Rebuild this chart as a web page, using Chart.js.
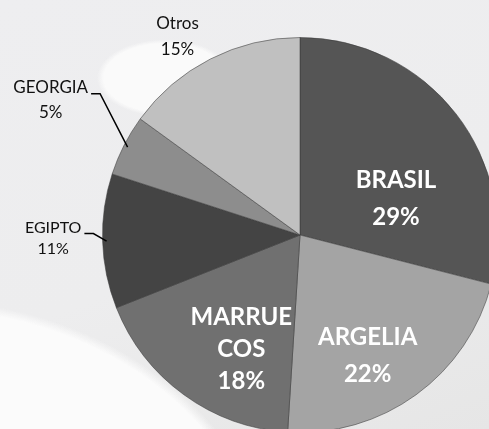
<!DOCTYPE html>
<html>
<head>
<meta charset="utf-8">
<script src="https://cdn.jsdelivr.net/npm/chart.js@4/dist/chart.umd.min.js"></script>
<style>
  html, body {
    margin: 0;
    padding: 0;
    width: 489px;
    height: 429px;
    overflow: hidden;
  }
  body {
    background:
      radial-gradient(ellipse 360px 300px at -80px 600px, #fbfbfb 0%, #fbfbfb 97%, rgba(251,251,251,0) 100%),
      radial-gradient(ellipse 85px 48px at 165px 78px, #fafafa 0%, #fafafa 72%, rgba(250,250,250,0) 80%),
      linear-gradient(160deg, #eeeef0 0%, #ededee 55%, #e6e6e6 100%);
  }
  #wrap {
    position: absolute;
    left: 0;
    top: 0;
  }
</style>
</head>
<body>
<div id="wrap"><canvas id="pie" width="600" height="470"></canvas></div>
<script>
// Exportaciones por destino (%)
const categories = ["BRASIL", "ARGELIA", "MARRUECOS", "EGIPTO", "GEORGIA", "Otros"];
const shares = [29, 22, 18, 11, 5, 15];
const sliceColors = ["#555555", "#a4a4a4", "#707070", "#444444", "#8d8d8d", "#c0c0c0"];

// label text lines per slice
const labelLines = [
  ["BRASIL", "29%"],
  ["ARGELIA", "22%"],
  ["MARRUE", "COS", "18%"],
  ["EGIPTO", "11%"],
  ["GEORGIA", "5%"],
  ["Otros", "15%"]
];

// label placement: angle shift (deg) from slice middle, distance as fraction of radius
const labelPlacement = [
  { shift: 17, frac: 0.52, inside: true, lh: 37 },
  { shift: 6.7, frac: 0.70, inside: true, lh: 37 },
  { shift: -8.8, frac: 0.65, inside: true, lh: 32 },
  { shift: 1.1, frac: 1.25, inside: false, lh: 21, size: 16, leader: true },
  { shift: 1.4, frac: 1.435, inside: false, lh: 25, size: 17, leader: true },
  { shift: -4.7, frac: 1.18, inside: false, lh: 26, size: 17 }
];

function shade(hex, amt) {
  const n = parseInt(hex.slice(1), 16);
  let r = (n >> 16) + amt, g = ((n >> 8) & 255) + amt, b = (n & 255) + amt;
  r = Math.max(0, Math.min(255, r));
  g = Math.max(0, Math.min(255, g));
  b = Math.max(0, Math.min(255, b));
  return `rgb(${r},${g},${b})`;
}

// soft bevel look like the original office chart
function bevelFill(context) {
  const chart = context.chart;
  const base = sliceColors[context.dataIndex];
  const meta = chart.getDatasetMeta(0);
  const arc = meta.data[context.dataIndex];
  if (!arc || !arc.outerRadius) return base;
  const g = chart.ctx.createRadialGradient(arc.x, arc.y, 0, arc.x, arc.y, arc.outerRadius);
  g.addColorStop(0, base);
  g.addColorStop(0.88, base);
  g.addColorStop(0.95, shade(base, 28));
  g.addColorStop(0.98, shade(base, -5));
  g.addColorStop(1, shade(base, -40));
  return g;
}

const labelPlugin = {
  id: "sliceLabels",
  afterDatasetsDraw(chart) {
    const ctx = chart.ctx;
    const meta = chart.getDatasetMeta(0);
    meta.data.forEach((arc, i) => {
      const p = labelPlacement[i];
      const mid = (arc.startAngle + arc.endAngle) / 2;
      const ang = mid + p.shift * Math.PI / 180;
      const cx = arc.x + Math.cos(ang) * arc.outerRadius * p.frac;
      const cy = arc.y + Math.sin(ang) * arc.outerRadius * p.frac;
      const lines = labelLines[i];

      ctx.save();
      ctx.textAlign = "center";
      ctx.textBaseline = "middle";
      if (p.inside) {
        ctx.font = "bold 24px Lato, 'Open Sans', sans-serif";
        ctx.fillStyle = "#ffffff";
      } else {
        ctx.font = `${p.size}px Lato, 'Open Sans', sans-serif`;
        ctx.fillStyle = "#111111";
      }
      const top = cy - (lines.length - 1) * p.lh / 2;
      lines.forEach((t, k) => ctx.fillText(t, cx, top + k * p.lh));

      if (p.leader) {
        const w = ctx.measureText(lines[0]).width;
        const lx = cx + w / 2 + 3;
        const ly = top + 6;
        const ex = arc.x + Math.cos(mid) * (arc.outerRadius - 4);
        const ey = arc.y + Math.sin(mid) * (arc.outerRadius - 4);
        ctx.strokeStyle = "#000000";
        ctx.lineWidth = 1.5;
        ctx.beginPath();
        ctx.moveTo(lx, ly);
        ctx.lineTo(lx + 9, ly);
        ctx.lineTo(ex, ey);
        ctx.stroke();
      }
      ctx.restore();
    });
  }
};

new Chart(document.getElementById("pie"), {
  type: "pie",
  data: {
    labels: categories,
    datasets: [{
      data: shares,
      backgroundColor: bevelFill,
      borderColor: "rgba(60,60,60,0.55)",
      borderWidth: 1
    }]
  },
  options: {
    responsive: false,
    animation: false,
    devicePixelRatio: 1,
    layout: { padding: { top: 37, bottom: 37, left: 0, right: 0 } },
    plugins: {
      legend: { display: false },
      tooltip: { enabled: false }
    }
  },
  plugins: [labelPlugin]
});
</script>
</body>
</html>
